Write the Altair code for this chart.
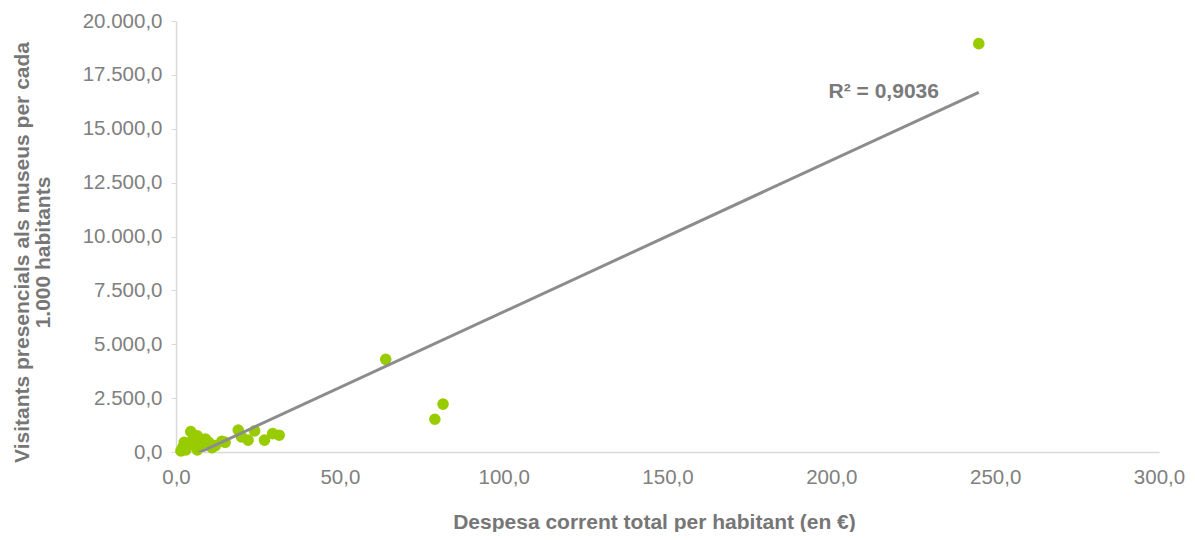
import altair as alt
import pandas as pd

# Despesa corrent total per habitant (en €)
despesa = [1.5, 2.0, 2.5, 3.0, 3.5, 4.5, 5.0, 6.5, 6.5, 7.0, 8.0, 9.0, 10.0, 11.0,
           12.0, 14.0, 15.0, 19.0, 20.0, 22.0, 24.0, 27.0, 29.5, 31.5, 64.0, 79.0,
           81.5, 245.0]
# Visitants presencials als museus per cada 1.000 habitants
visitants = [50, 200, 450, 100, 300, 950, 550, 750, 100, 250, 400, 600, 450, 200,
             300, 500, 450, 1020, 700, 550, 980, 550, 850, 780, 4300, 1520,
             2220, 18950]

r2_label = ["R² = 0,9036"]
r2_pos_x = [216]
r2_pos_y = [16700]

df = pd.DataFrame({"despesa": despesa, "visitants": visitants})
df_lbl = pd.DataFrame({"x": r2_pos_x, "y": r2_pos_y, "t": r2_label})

cat_fmt = "replace(replace(replace(format(datum.value, ',.1f'), ',', '_'), '.', ','), '_', '.')"

W, H = 983, 431

xs = alt.Scale(domain=[0, 300], nice=False)
ys = alt.Scale(domain=[0, 20000], nice=False)

x_axis = alt.Axis(
    values=[0, 50, 100, 150, 200, 250, 300], labelExpr=cat_fmt, grid=False,
    ticks=False, domainColor="#d9d9d9", domainWidth=1.5, labelPadding=15,
    labelFlush=False, labelOverlap=False,
    labelFontSize=20.5, labelColor="#808080", labelFont="Liberation Sans",
    title="Despesa corrent total per habitant (en €)", titleFontSize=21,
    titleFont="Liberation Sans", titleFontWeight="bold", titleColor="#767676",
    titleX=478, titleY=76, titleBaseline="alphabetic",
)
y_axis = alt.Axis(
    values=[0, 2500, 5000, 7500, 10000, 12500, 15000, 17500, 20000],
    labelExpr=cat_fmt, grid=False, ticks=True, tickSize=5, tickColor="#d9d9d9",
    domainColor="#d9d9d9", domainWidth=1.5, labelPadding=9,
    labelFlush=False, labelOverlap=False,
    labelFontSize=20.5, labelColor="#808080", labelFont="Liberation Sans",
    title=["Visitants presencials als museus per cada", "1.000 habitants"],
    titleFontSize=21, titleFont="Liberation Sans", titleFontWeight="bold",
    titleColor="#767676", titleX=-154, titleY=231, titleBaseline="middle",
    titleLineHeight=21,
)

base = alt.Chart(df)

points = base.mark_circle(size=135, opacity=1, color="#99CC00").encode(
    x=alt.X("despesa:Q", scale=xs, axis=x_axis),
    y=alt.Y("visitants:Q", scale=ys, axis=y_axis),
)

trend = base.transform_regression("despesa", "visitants").mark_line(
    color="#8c8c8c", strokeWidth=3, clip=True
).encode(
    x=alt.X("despesa:Q", scale=xs),
    y=alt.Y("visitants:Q", scale=ys),
)

label = alt.Chart(df_lbl).mark_text(
    font="Liberation Sans", fontSize=21, fontWeight="bold", color="#7a7a7a",
    align="center", baseline="middle",
).encode(
    x=alt.X("x:Q", scale=xs),
    y=alt.Y("y:Q", scale=ys),
    text="t:N",
)

chart = alt.layer(points, trend, label).properties(
    width=W, height=H,
    autosize=alt.AutoSizeParams(type="none"),
    padding={"left": 168, "top": 13, "right": 28, "bottom": 80},
).configure(background="white").configure_view(stroke=None)

chart.save("out.html", embed_options={"renderer": "svg", "actions": False})
